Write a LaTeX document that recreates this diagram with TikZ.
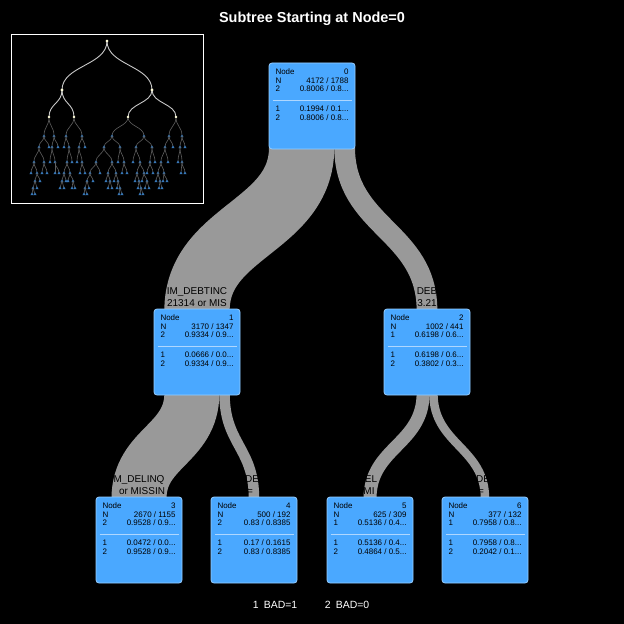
\documentclass[tikz,border=0pt]{standalone}
\usepackage{fontspec}
\setmainfont{Liberation Sans}
\usetikzlibrary{calc}
\pgfdeclarelayer{backdrop}
\pgfdeclarelayer{flows}
\pgfsetlayers{backdrop,flows,main}
\definecolor{boxblue}{RGB}{74,168,255}
\definecolor{boxedge}{RGB}{150,205,255}
\definecolor{sepblue}{RGB}{175,215,255}
\definecolor{flowgray}{RGB}{153,153,153}
\definecolor{minigray}{RGB}{95,95,95}
\definecolor{minitopgray}{RGB}{200,200,200}
\definecolor{minileafblue}{RGB}{55,120,185}
\newcommand{\statbox}[6]{\parbox[c][78bp][t]{73bp}{\vspace*{1.5bp}Node\hfill #1\\N\hfill #2\\#3\hfill #4\\[11.2bp]1\hfill #5\\2\hfill #6}}

\begin{document}
\begin{tikzpicture}[
        x=1bp, y=-1bp,
        treenode/.style={rectangle, rounded corners=3bp, draw=boxedge, line width=0.8bp, fill=boxblue, inner xsep=6.5bp, inner ysep=4bp, font=\fontsize{8}{8.8}\selectfont, text=black},
        flow/.style={draw=flowgray},
        sepline/.style={draw=sepblue, line width=0.6bp},
        splitlabel/.style={font=\fontsize{10}{12}\selectfont, text=black, inner sep=0pt, anchor=base},
        titletext/.style={font=\fontsize{14.5}{16}\selectfont\bfseries, text=white},
        legendtext/.style={font=\fontsize{10.5}{12}\selectfont, text=white},
        minitop/.style={draw=minitopgray, line width=0.9bp},
        minilink/.style={draw=minigray, line width=0.6bp},
        minileaf/.style={fill=minileafblue}
    ]
    \begin{pgfonlayer}{backdrop}
        \fill[black] (0,0) rectangle (624,624);
    \end{pgfonlayer}
    \path[use as bounding box] (0,0) rectangle (624,624);

    \node[titletext] (title) at (312,19) {Subtree Starting at Node=0};

    % overview of the whole tree
    \draw[white, line width=1bp] (11.5,34.5) rectangle (203.5,203.5);
    \foreach \ax/\ay/\bx/\by in {
        49/117/44/136, 49/117/54/136, 74/117/66/136, 74/117/82/136, 128/117/112/136, 128/117/144/136, 176/117/169/136, 176/117/182/136,
        44/136/39/147, 44/136/49/147, 54/136/52/147, 54/136/58/147, 66/136/64/147, 66/136/69/147, 82/136/79/147, 82/136/85/147,
        112/136/104/147, 112/136/120/147, 144/136/136/147, 144/136/152/147, 169/136/165/147, 169/136/173/147, 182/136/180/147, 182/136/185/147,
        39/147/34/162, 39/147/44/162, 52/147/50/162, 52/147/55/162, 69/147/67/162, 69/147/72/162, 79/147/77/162, 79/147/82/162,
        104/147/96/162, 104/147/112/162, 120/147/118/162, 120/147/124/162, 136/147/133/162, 136/147/140/162, 152/147/150/162, 152/147/155/162,
        165/147/161/162, 165/147/168/162, 180/147/178/162, 180/147/182/162,
        34/162/31/173, 34/162/37/173, 44/162/42/173, 44/162/47/173, 55/162/55/173, 55/162/59/173, 67/162/64/173, 67/162/70/173,
        82/162/80/173, 82/162/85/173, 96/162/90/173, 96/162/100/173, 112/162/108/173, 112/162/116/173, 124/162/122/173, 124/162/127/173,
        140/162/137/173, 140/162/144/173, 150/162/147/173, 150/162/153/173, 161/162/158/173, 161/162/164/173, 182/162/181/173, 182/162/185/173,
        37/173/35/181, 37/173/40/181, 64/173/62/181, 64/173/66/181, 70/173/68/181, 70/173/73/181, 90/173/87/181, 90/173/93/181,
        108/173/106/181, 108/173/110/181, 116/173/114/181, 116/173/118/181, 137/173/135/181, 137/173/139/181, 144/173/142/181, 144/173/147/181,
        158/173/156/181, 158/173/160/181, 164/173/163/181, 164/173/167/181,
        35/181/33/188, 35/181/37/188, 62/181/60/188, 62/181/64/188, 73/181/72/188, 73/181/75/188, 87/181/85/188, 87/181/89/188,
        110/181/108/188, 110/181/112/188, 118/181/117/188, 118/181/120/188, 139/181/138/188, 139/181/141/188, 147/181/145/188, 147/181/149/188,
        160/181/159/188, 160/181/162/188,
        33/188/32/194, 33/188/35/194, 85/188/84/194, 85/188/87/194, 120/188/119/194, 120/188/122/194, 141/188/140/194, 141/188/143/194}
    {
        \draw[minilink] (\ax,\ay) .. controls (\ax,{(\ay+\by)/2}) and (\bx,{(\ay+\by)/2}) .. (\bx,\by);
        \fill[minileaf] (\bx,\by) ++(0,-1.6) -- ++(1.6,2.8) -- ++(-3.2,0) -- cycle;
    }
    \foreach \ax/\ay/\bx/\by in {107/41/62/90, 107/41/152/90, 62/90/49/117, 62/90/74/117, 152/90/128/117, 152/90/176/117}
    {
        \draw[minitop] (\ax,\ay) .. controls (\ax,{(\ay+\by)/2}) and (\bx,{(\ay+\by)/2}) .. (\bx,\by);
        \fill[white!85!yellow] (\ax,\ay) circle (1.4);
        \fill[white!85!yellow] (\bx,\by) circle (1.4);
    }

    \node[treenode] (n0) at (312,106) {\statbox{0}{4172 / 1788}{2}{0.8006 / 0.8...}{0.1994 / 0.1...}{0.8006 / 0.8...}};
    \node[treenode] (n1) at (197,352) {\statbox{1}{3170 / 1347}{2}{0.9334 / 0.9...}{0.0666 / 0.0...}{0.9334 / 0.9...}};
    \node[treenode] (n2) at (427,352) {\statbox{2}{1002 / 441}{1}{0.6198 / 0.6...}{0.6198 / 0.6...}{0.3802 / 0.3...}};
    \node[treenode] (n3) at (139,540) {\statbox{3}{2670 / 1155}{2}{0.9528 / 0.9...}{0.0472 / 0.0...}{0.9528 / 0.9...}};
    \node[treenode] (n4) at (254,540) {\statbox{4}{500 / 192}{2}{0.83 / 0.8385}{0.17 / 0.1615}{0.83 / 0.8385}};
    \node[treenode] (n5) at (370,540) {\statbox{5}{625 / 309}{1}{0.5136 / 0.4...}{0.5136 / 0.4...}{0.4864 / 0.5...}};
    \node[treenode] (n6) at (485,540) {\statbox{6}{377 / 132}{1}{0.7958 / 0.8...}{0.7958 / 0.8...}{0.2042 / 0.1...}};
    \foreach \n in {n0,n1,n2,n3,n4,n5,n6}
        \draw[sepline] ([xshift=4bp,yshift=-38bp]\n.north west) -- ([xshift=-3bp,yshift=-38bp]\n.north east);

    \begin{pgfonlayer}{flows}
        \draw[flow, line width=65.3bp] ([xshift=-10.35bp,yshift=2bp]n0.south) .. controls +(0,80) and +(0,-80) .. ([yshift=-2bp]n1.north);
        \draw[flow, line width=20.7bp] ([xshift=32.65bp,yshift=2bp]n0.south) .. controls +(0,80) and +(0,-80) .. ([yshift=-2bp]n2.north);
        \draw[flow, line width=55bp] ([xshift=-5.15bp,yshift=2bp]n1.south) .. controls +(0,51) and +(0,-51) .. ([yshift=-2bp]n3.north);
        \draw[flow, line width=10.5bp] ([xshift=27.5bp,yshift=2bp]n1.south) .. controls +(0,51) and +(0,-51) .. ([yshift=-2bp]n4.north);
        \draw[flow, line width=13bp] ([xshift=-3.9bp,yshift=2bp]n2.south) .. controls +(0,51) and +(0,-51) .. ([yshift=-2bp]n5.north);
        \draw[flow, line width=8.5bp] ([xshift=6.4bp,yshift=2bp]n2.south) .. controls +(0,51) and +(0,-51) .. ([yshift=-2bp]n6.north);
    \end{pgfonlayer}

    \node[splitlabel] (s1a) at ([yshift=14bp]n1.north) {IM\_DEBTINC};
    \node[splitlabel] (s1b) at ([yshift=2bp]n1.north) {21314 or MIS};
    \node[splitlabel] (s2a) at ([yshift=14bp]n2.north) {DEB};
    \node[splitlabel] (s2b) at ([yshift=2bp]n2.north) {3.21};
    \node[splitlabel] (s3a) at ([yshift=14bp]n3.north) {M\_DELINQ};
    \node[splitlabel] (s3b) at ([xshift=3bp,yshift=2bp]n3.north) {or MISSIN};
    \node[splitlabel] (s4a) at ([xshift=-2bp,yshift=14bp]n4.north) {DE};
    \node[splitlabel] (s4b) at ([xshift=-4bp,yshift=2bp]n4.north) {=};
    \node[splitlabel] (s5a) at ([xshift=1bp,yshift=14bp]n5.north) {EL};
    \node[splitlabel] (s5b) at ([xshift=-1bp,yshift=2bp]n5.north) {MI};
    \node[splitlabel] (s6a) at ([xshift=-2bp,yshift=14bp]n6.north) {DE};
    \node[splitlabel] (s6b) at ([xshift=-4bp,yshift=2bp]n6.north) {=};

    \node[legendtext] (leg1) at (275,605) {1\hspace{0.5em}BAD=1};
    \node[legendtext] (leg2) at (347,605) {2\hspace{0.5em}BAD=0};
\end{tikzpicture}
\end{document}
